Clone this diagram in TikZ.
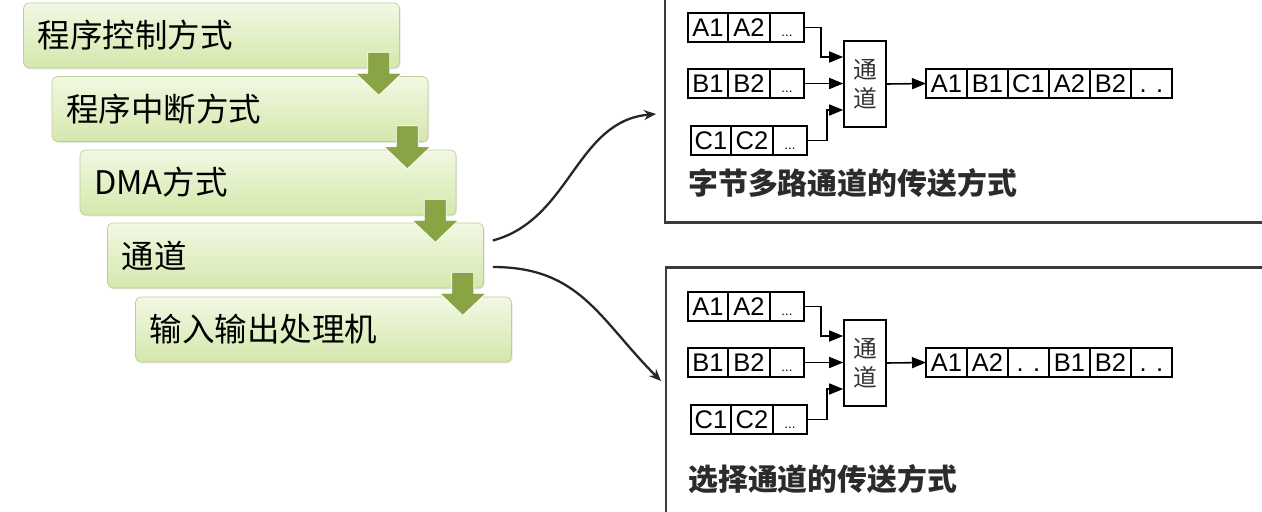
\documentclass[tikz,border=0pt]{standalone}
\usepackage{fontspec}
\setmainfont{Liberation Sans}
\newfontfamily\cjk{Noto Sans CJK SC}
\usetikzlibrary{arrows.meta, positioning, calc, shadows}

\definecolor{stagetop}{HTML}{F2F8E3}
\definecolor{stagebot}{HTML}{D4E8AC}
\definecolor{stageline}{HTML}{BCCF98}
\definecolor{stagearrow}{HTML}{88A445}
\definecolor{panelgray}{HTML}{3A3A3A}
\definecolor{capgray}{HTML}{2B2B2B}

\begin{document}
\begin{tikzpicture}[
  x=0.02cm, y=-0.02cm,
  every node/.style={align=center},
  % Stages (left) - green shaded boxes
  stage/.style={rectangle, draw=stageline, rounded corners=3pt, top color=stagetop, bottom color=stagebot, minimum height=1.3cm, text width=6.96cm, inner xsep=0.28cm, align=left, font=\cjk\fontsize{18.5}{20}\selectfont, drop shadow={shadow xshift=0.6pt, shadow yshift=-0.8pt, opacity=0.2}},
  stagestep/.style={fill=stagearrow, draw=white, line width=0.4pt},
  % Panels (right) - cells, channel box, captions
  panel/.style={draw=panelgray, line width=1.6pt},
  cell/.style={rectangle, draw=black, line width=0.9pt, minimum height=0.58cm, inner sep=0pt, outer sep=0pt, text height=10pt, text depth=0pt, font=\fontsize{14.5}{15}\selectfont},
  celldots/.style={font=\fontsize{7.5}{8}\selectfont},
  chanbox/.style={rectangle, draw=black, line width=0.9pt, minimum width=0.84cm, minimum height=1.72cm, inner sep=0pt, font=\cjk\fontsize{13.5}{16.5}\selectfont, text=black!80},
  captext/.style={anchor=west, inner sep=0pt, font=\cjk\bfseries\fontsize{17}{20}\selectfont, text=capgray},
  % Edges
  flow/.style={-{Triangle[length=2.8mm, width=2.2mm]}, line width=0.9pt},
  conn/.style={-{Stealth[length=2.4mm, width=2mm]}, line width=1.3pt, draw=black!85}
]
\useasboundingbox (0,0) rectangle (1262,511);
\fill[white] (0,0) rectangle (1262,511);

% === STAGES (left) ===
\node[stage] (prog) at (211.5,35.5) {程序控制方式};
\node[stage] (intr) at (240,109) {程序中断方式};
\node[stage] (dma) at (268,182.5) {DMA方式};
\node[stage] (chan) at (295.5,255.5) {通道};
\node[stage] (iop) at (323.5,329.5) {输入输出处理机};

% green step arrows
\foreach \n in {prog, intr, dma, chan}
  \filldraw[stagestep, shift={(\n.south east)}] (-32,-16) -- (-10,-16) -- (-10,5) -- (2,5) -- (-21,27) -- (-44,5) -- (-32,5) -- cycle;

% === PANELS (right) ===
\draw[panel] (665,-10) |- (1275,222.5);
\draw[panel] (666,520) |- (1275,267.5);

\foreach \p/\dy in {t/0, s/279} {
  \foreach \r/\L/\y/\dx in {a/A/27.5/0, b/B/83.5/0, c/C/140.5/3} {
    \node[cell, minimum width=0.8cm] (\p\r1) at (708+\dx, \y+\dy) {\L1};
    \node[cell, minimum width=0.84cm, right=0pt of \p\r1] (\p\r2) {\L2};
    \node[cell, celldots, minimum width=0.68cm, right=0pt of \p\r2] (\p\r3) {...};
  }
  \node[chanbox] (\p ch) at (865, 84+\dy) {通\\道};
  \draw[flow] (\p a3.east) -- ++(17,0) |- ($(\p ch.west)+(0,-27)$);
  \draw[flow] (\p b3.east) -- (\p b3.east -| \p ch.west);
  \draw[flow] (\p c3.east) -- ++(20,0) |- ($(\p ch.west)+(0,26)$);
}

% byte multiplexer output
\foreach \t [count=\i] in {A1, B1, C1, A2, B2, {. .}}
  \node[cell, minimum width=0.82cm] (to\i) at ({946.5+41*(\i-1)}, 83.5) {\t};
\draw[flow] (tch.east) -- (to1.west);
\node[captext] (tcap) at (688,183) {字节多路通道的传送方式};

% selector output
\foreach \t [count=\i] in {A1, A2, {. .}, B1, B2, {. .}}
  \node[cell, minimum width=0.82cm] (so\i) at ({946.5+41*(\i-1)}, 362.5) {\t};
\draw[flow] (sch.east) -- (so1.west);
\node[captext] (scap) at (688,479) {选择通道的传送方式};

% === CONNECTORS ===
\coordinate (chanup) at ($(chan.east)+(9,-15)$);
\coordinate (chandn) at ($(chan.east)+(9,11.5)$);
\coordinate (byteend) at (656,114);
\coordinate (selend) at (661,381);
\draw[conn] (chanup) to[out=15, in=185] (byteend);
\draw[conn] (chandn) to[out=0, in=135, looseness=1.1] (selend);

\end{tikzpicture}
\end{document}
